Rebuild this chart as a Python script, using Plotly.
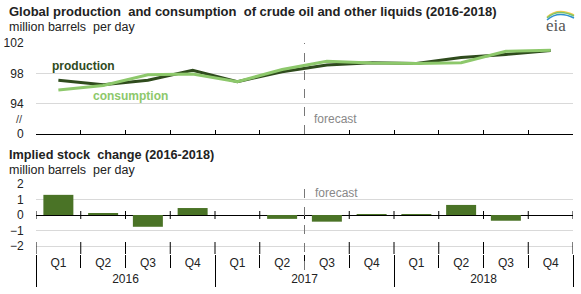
import plotly.graph_objects as go

# data
years = ["2016"] * 4 + ["2017"] * 4 + ["2018"] * 4
quarters = ["Q1", "Q2", "Q3", "Q4"] * 3
production = [97.1, 96.5, 97.1, 98.4, 96.9, 98.2, 99.1, 99.4, 99.3, 100.1, 100.5, 101.0]
consumption = [95.8, 96.4, 97.8, 97.9, 96.9, 98.5, 99.6, 99.35, 99.3, 99.4, 100.9, 101.05]
stock_change = [1.3, 0.07, -0.76, 0.45, 0.0, -0.25, -0.43, 0.06, 0.06, 0.65, -0.37, 0.0]
top_ticks = [90, 94, 98, 102]
top_ticktext = ["0", "94", "98", "102"]
bottom_ticks = [-2, -1, 0, 1, 2]
forecast_start = 5.5  # boundary between 2017 Q2 and Q3

W, H = 581, 294
L, R, T, B = 36, 8, 43, 40
PW, PH = W - L - R, H - T - B
NB = "\u00a0 "  # the double spaces seen in the original titles


def px(x):
    return (x - L) / PW


def py(y):
    return (H - B - y) / PH


top_dom = [py(134), 1]
bot_dom = [0, py(184)]
# bottom panel: 2 at pixel 184, -2 at pixel 246, axis drawn a little lower
unit = (246 - 184) / 4
y2_range = [-2 - (H - B - 246) / unit, 2]
zero_px = 184 + 2 * unit

DARK = "#2f4b1d"
LIGHT = "#8dc86b"
BAR = "#4a7326"
GRID = "#d9d9d9"
FONT = "Liberation Sans, Arial, sans-serif"

fig = go.Figure()
xcat = [years, quarters]
labels = [f"{y} {q}" for y, q in zip(years, quarters)]

fig.add_trace(go.Scatter(x=labels, y=production, mode="lines", line=dict(color=DARK, width=3),
                         xaxis="x", yaxis="y", showlegend=False))
fig.add_trace(go.Scatter(x=labels, y=consumption, mode="lines", line=dict(color=LIGHT, width=3),
                         xaxis="x", yaxis="y", showlegend=False))
fig.add_trace(go.Bar(x=xcat, y=stock_change, marker=dict(color=BAR, line=dict(width=0)),
                     xaxis="x2", yaxis="y2", showlegend=False))

xr = [-0.5, len(quarters) - 0.5]
hidden_ticks = dict(ticks="outside", ticklen=9, tickcolor="rgba(0,0,0,0)")

fig.update_layout(
    width=W, height=H, margin=dict(l=L, r=R, t=T, b=B, autoexpand=False),
    paper_bgcolor="white", plot_bgcolor="white",
    font=dict(family=FONT, size=12, color="#222"),
    bargap=0.33,
    xaxis=dict(domain=[0, 1], anchor="y", range=xr, tickson="boundaries",
               showticklabels=False, showgrid=False, showline=True, linecolor="black",
               linewidth=1, ticks="inside", ticklen=4, tickcolor="black"),
    yaxis=dict(domain=top_dom, anchor="x", range=[90, 102], tickvals=top_ticks,
               ticktext=top_ticktext, showgrid=True, gridcolor=GRID, zeroline=False,
               **hidden_ticks),
    xaxis2=dict(domain=[0, 1], anchor="y2", range=xr,
                showgrid=False, showline=False, ticks="outside", ticklen=13,
                tickcolor="black", dividercolor="black", dividerwidth=1,
                tickfont=dict(size=12, color="#222")),
    yaxis2=dict(domain=bot_dom, anchor="x2", range=y2_range, tickvals=bottom_ticks,
                showgrid=True, gridcolor=GRID, zeroline=True, zerolinecolor="black",
                zerolinewidth=1, **hidden_ticks),
)

# small ticks crossing the zero line, and the top of the category dividers
for i in range(len(quarters) + 1):
    fig.add_shape(type="line", xref="x2", yref="paper", x0=i - 0.5, x1=i - 0.5,
                  y0=py(zero_px + 4), y1=py(zero_px - 4), line=dict(color="black", width=1))
    if i - 0.5 != forecast_start:
        fig.add_shape(type="line", xref="x2", yref="paper", x0=i - 0.5, x1=i - 0.5,
                      y0=0, y1=py(242), line=dict(color="black", width=1))

# forecast markers
fig.add_shape(type="line", xref="x", yref="paper", x0=forecast_start, x1=forecast_start,
              y0=top_dom[0], y1=top_dom[1], line=dict(color="#777", width=1, dash="dash"))
fig.add_shape(type="line", xref="x2", yref="paper", x0=forecast_start, x1=forecast_start,
              y0=py(270), y1=py(180), line=dict(color="#777", width=1, dash="dash"))

ann = []


def text(s, x, y, size=12, color="#222", bold=False, xanchor="left", font=FONT):
    ann.append(dict(text=f"<b>{s}</b>" if bold else s, x=px(x), y=py(y), xref="paper",
                    yref="paper", xanchor=xanchor, yanchor="middle", showarrow=False,
                    font=dict(size=size, color=color, family=font)))


text(f"Global production{NB}and consumption{NB}of crude oil and other liquids (2016-2018)",
     7, 12, size=13, bold=True)
text(f"million barrels{NB}per day", 7, 27, size=12.5)
text(f"Implied stock{NB}change (2016-2018)", 7, 155, size=12.7, bold=True)
text(f"million barrels{NB}per day", 7, 170, size=12.5)
text("production", 50, 66, color=DARK, bold=True)
text("consumption", 91, 96, color=LIGHT, bold=True)
text("forecast", 312, 119, color="#888")
text("forecast", 313, 193, color="#888")
text("//", 19, 119, size=11, color="#444", xanchor="center")
text("eia", 556, 26, size=17, color="#555", xanchor="center",
     font="Liberation Serif, serif")
fig.update_layout(annotations=ann)

# eia logo swooshes
for col, y0, y1 in [("#f2c94c", 17, 11), ("#7cc36b", 18, 12), ("#2f8fcf", 20, 14)]:
    fig.add_shape(type="path", xref="paper", yref="paper",
                  path=f"M {px(547)},{py(y0)} Q {px(558)},{py(y1 - 4)} {px(574)},{py(y1 + 4)}",
                  line=dict(color=col, width=1.5))

fig.write_html("out.html", config={"displayModeBar": False},
               post_script="document.body.style.margin='0';")
